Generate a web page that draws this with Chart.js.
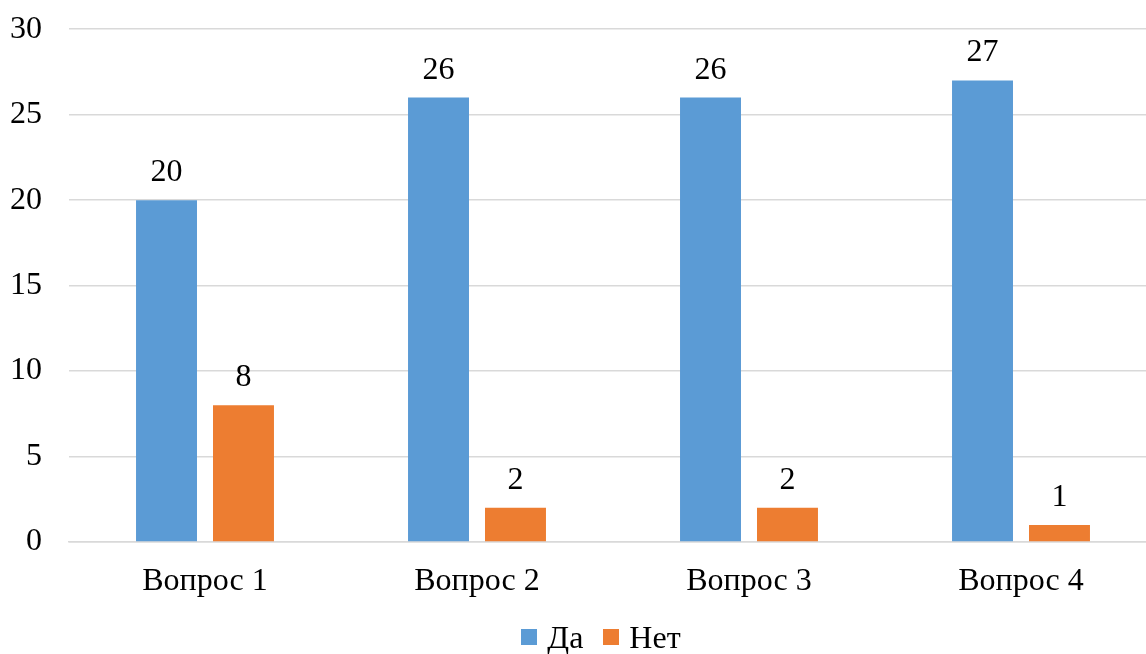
<!DOCTYPE html>
<html>
<head>
<meta charset="utf-8">
<script src="https://cdn.jsdelivr.net/npm/chart.js@4"></script>
<style>
  html, body { margin: 0; padding: 0; overflow: hidden; background: #fff; }
  #wrap { position: relative; width: 1190px; height: 671px; margin-top: -17px; }
  #legend {
    position: absolute; left: 6px; width: 1190px; top: 638px;
    display: flex; justify-content: center; align-items: center;
    font-family: 'Liberation Serif', 'Times New Roman', serif; font-size: 32px; color: #000;
    line-height: 32px;
  }
  #legend .item { display: flex; align-items: center; margin: 0 10px; }
  #legend .box { width: 16px; height: 16px; margin-right: 10px; }
</style>
</head>
<body>
<div id="wrap">
  <canvas id="chart"></canvas>
  <div id="legend"></div>
</div>
<script>
// --- data ---
const categories = ['Вопрос 1', 'Вопрос 2', 'Вопрос 3', 'Вопрос 4'];
const yesValues = [20, 26, 26, 27];
const noValues = [8, 2, 2, 1];
const seriesNames = ['Да', 'Нет'];
const seriesColors = ['#5B9BD5', '#ED7D31'];
const yTicks = [0, 5, 10, 15, 20, 25, 30];

const FONT = "'Liberation Serif', 'Times New Roman', serif";

// values drawn above each bar
const valueLabels = {
    id: 'valueLabels',
    afterDatasetsDraw(chart) {
        const ctx = chart.ctx;
        ctx.save();
        ctx.font = '32px ' + FONT;
        ctx.fillStyle = '#000';
        ctx.textAlign = 'center';
        ctx.textBaseline = 'alphabetic';
        chart.data.datasets.forEach((ds, i) => {
            chart.getDatasetMeta(i).data.forEach((bar, j) => {
                ctx.fillText(ds.data[j], bar.x, bar.y - 19);
            });
        });
        ctx.restore();
    }
};

const chart = new Chart(document.getElementById('chart'), {
    type: 'bar',
    data: {
        labels: categories,
        datasets: [{
            label: seriesNames[0],
            data: yesValues,
            backgroundColor: seriesColors[0],
            categoryPercentage: 0.566,
            barPercentage: 0.792
        }, {
            label: seriesNames[1],
            data: noValues,
            backgroundColor: seriesColors[1],
            categoryPercentage: 0.566,
            barPercentage: 0.792
        }]
    },
    options: {
        responsive: true,
        maintainAspectRatio: false,
        animation: false,
        layout: { padding: { top: 0, right: 33, left: 0, bottom: 0 } },
        scales: {
            x: {
                grid: { display: false },
                border: { color: '#d9d9d9', width: 1.5 },
                ticks: { color: '#000', font: { family: FONT, size: 32 }, padding: 12 },
                afterFit: (scale) => { scale.height = 112; }
            },
            y: {
                min: 0,
                max: 30,
                afterBuildTicks: (scale) => { scale.ticks = yTicks.map(v => ({ value: v })); },
                grid: { color: '#d9d9d9', lineWidth: 1.5, drawTicks: false },
                border: { display: false },
                ticks: { color: '#000', font: { family: FONT, size: 32 }, padding: 27 },
                afterFit: (scale) => { scale.width = 69; }
            }
        },
        plugins: {
            legend: { display: false },
            tooltip: { enabled: false }
        }
    },
    plugins: [valueLabels]
});

// html legend built from the datasets
const legendEl = document.getElementById('legend');
chart.data.datasets.forEach(ds => {
    const item = document.createElement('div');
    item.className = 'item';
    const box = document.createElement('span');
    box.className = 'box';
    box.style.background = ds.backgroundColor;
    const txt = document.createElement('span');
    txt.textContent = ds.label;
    item.appendChild(box);
    item.appendChild(txt);
    legendEl.appendChild(item);
});
</script>
</body>
</html>
